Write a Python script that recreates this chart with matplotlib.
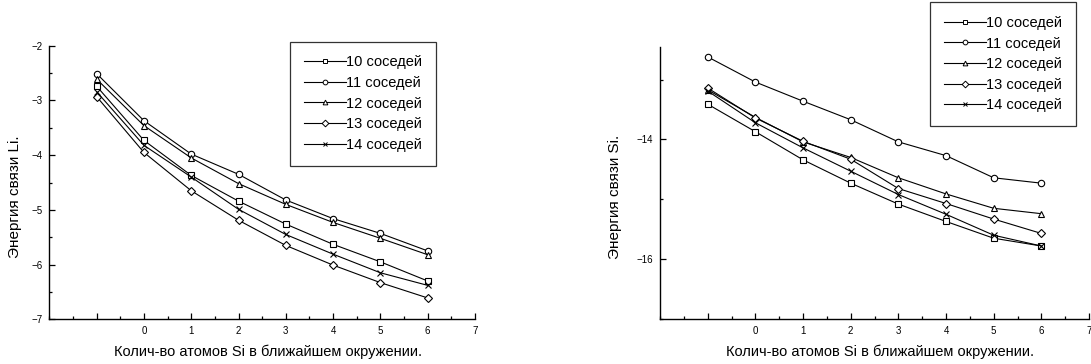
import matplotlib.pyplot as plt
from matplotlib.lines import Line2D
from matplotlib.ticker import MultipleLocator, FixedLocator, FixedFormatter

plt.rcParams['font.family'] = ['Liberation Sans', 'DejaVu Sans']

# data
x = [-1, 0, 1, 2, 3, 4, 5, 6]
labels = ['10 соседей', '11 соседей', '12 соседей', '13 соседей', '14 соседей']
markers = ['s', 'o', '^', 'D', 'x']

li_10 = [-2.74, -3.73, -4.37, -4.84, -5.26, -5.63, -5.95, -6.30]
li_11 = [-2.51, -3.37, -3.98, -4.35, -4.82, -5.16, -5.43, -5.75]
li_12 = [-2.61, -3.46, -4.05, -4.52, -4.90, -5.23, -5.52, -5.82]
li_13 = [-2.93, -3.95, -4.65, -5.19, -5.65, -6.01, -6.33, -6.61]
li_14 = [-2.84, -3.82, -4.40, -4.99, -5.45, -5.81, -6.15, -6.38]

si_10 = [-13.41, -13.87, -14.34, -14.73, -15.08, -15.37, -15.65, -15.78]
si_11 = [-12.62, -13.04, -13.36, -13.67, -14.04, -14.27, -14.64, -14.73]
si_12 = [-13.17, -13.63, -14.04, -14.30, -14.64, -14.91, -15.15, -15.24]
si_13 = [-13.14, -13.64, -14.03, -14.33, -14.82, -15.07, -15.33, -15.57]
si_14 = [-13.19, -13.72, -14.14, -14.53, -14.92, -15.25, -15.60, -15.78]

xticks = [-1, 0, 1, 2, 3, 4, 5, 6, 7]
xticklabels = ['', '0', '1', '2', '3', '4', '5', '6', '7']
xlabel = 'Колич-во атомов Si в ближайшем окружении.'

fig = plt.figure(figsize=(10.91, 3.64), dpi=100)
ax1 = fig.add_axes([0.0452, 0.1228, 0.3902, 0.7516])
ax2 = fig.add_axes([0.605, 0.1236, 0.3932, 0.748])


def marker_size(m):
    return {'s': 4.2, 'o': 4.6, '^': 4.6, 'D': 3.8, 'x': 4.6}[m]


def draw(ax, series):
    for ys, m in zip(series, markers):
        ax.plot(x, ys, color='black', lw=0.8, marker=m, ms=marker_size(m),
                mfc='white', mec='black', mew=0.8, clip_on=False)
    ax.set_xlim(-2, 7)
    ax.xaxis.set_major_locator(FixedLocator(xticks))
    ax.xaxis.set_major_formatter(FixedFormatter(xticklabels))
    ax.xaxis.set_minor_locator(MultipleLocator(0.5))
    for s in ['top', 'right']:
        ax.spines[s].set_visible(False)
    for s in ['left', 'bottom']:
        ax.spines[s].set_linewidth(1.0)
    ax.tick_params(which='both', direction='in', labelsize=7, width=0.9)
    ax.tick_params(which='major', length=4.2, pad=5)
    ax.tick_params(which='minor', length=2.2)
    ax.set_xlabel(xlabel, fontsize=10.5)
    ax.xaxis.set_label_coords(0.513, -0.093)


draw(ax1, [li_10, li_11, li_12, li_13, li_14])
ax1.set_ylim(-7, -2)
ax1.yaxis.set_major_locator(MultipleLocator(1))
ax1.yaxis.set_minor_locator(MultipleLocator(0.5))
ax1.set_ylabel('Энергия связи Li.', fontsize=11)
ax1.yaxis.set_label_coords(-0.064, 0.448)

draw(ax2, [si_10, si_11, si_12, si_13, si_14])
ax2.set_ylim(-17, -12.45)
ax2.yaxis.set_major_locator(FixedLocator([-16, -14]))
ax2.yaxis.set_minor_locator(FixedLocator([-17, -15, -13]))
ax2.set_ylabel('Энергия связи Si.', fontsize=11)
ax2.yaxis.set_label_coords(-0.089, 0.448)

handles = [Line2D([], [], color='black', lw=0.8, marker=m, ms=3.4, mfc='white',
                  mec='black', mew=0.7) for m in markers]

for ax, anchor in [(ax1, (0.908, 1.015)), (ax2, (0.970, 1.164))]:
    leg = ax.legend(handles, labels, loc='upper right', bbox_to_anchor=anchor,
                    fontsize=10.5, frameon=True, fancybox=False, handlelength=2.9,
                    handletextpad=0.0, labelspacing=0.45, borderpad=0.95,
                    borderaxespad=0.0)
    leg.get_frame().set_edgecolor('black')
    leg.get_frame().set_linewidth(0.9)

fig.savefig('out.png', dpi=100)
